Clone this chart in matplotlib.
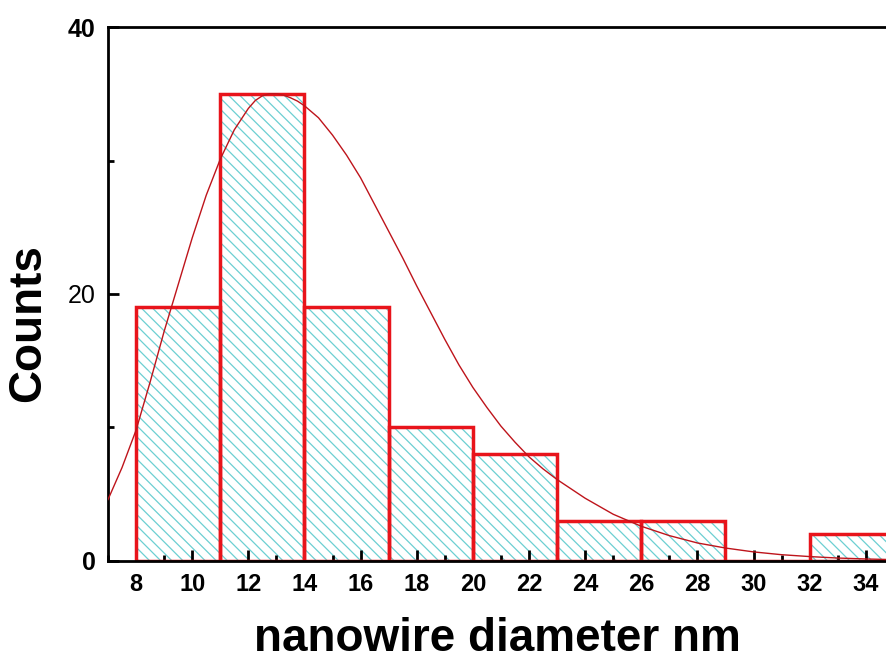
import matplotlib.pyplot as plt
from matplotlib.ticker import MultipleLocator

# histogram data (bin left edges, width 3 nm)
bin_left = [8, 11, 14, 17, 20, 23, 26, 29, 32]
counts = [19, 35, 19, 10, 8, 3, 3, 0, 2]
bin_width = 3

# fitted curve
fit_x = [7.0, 7.5, 8.0, 8.5, 9.0, 9.5, 10.0, 10.5, 11.0, 11.5, 12.0, 12.25, 12.5,
         12.75, 13.0, 13.25, 13.5, 13.75, 14.0, 14.5, 15.0, 15.5, 16.0, 16.5, 17.0,
         17.5, 18.0, 18.5, 19.0, 19.5, 20.0, 20.5, 21.0, 21.5, 22.0, 22.5, 23.0,
         24.0, 25.0, 26.0, 27.0, 28.0, 29.0, 30.0, 31.0, 32.0, 33.0, 34.0, 35.0]
fit_y = [4.6, 7.0, 9.8, 13.4, 17.2, 20.7, 24.2, 27.4, 30.1, 32.3, 33.9, 34.5, 34.85,
         35.0, 35.0, 34.9, 34.7, 34.45, 34.1, 33.2, 31.9, 30.4, 28.7, 26.7, 24.7,
         22.7, 20.6, 18.6, 16.6, 14.7, 13.0, 11.5, 10.1, 8.9, 7.8, 6.9, 6.1,
         4.7, 3.5, 2.6, 1.9, 1.35, 0.97, 0.68, 0.47, 0.33, 0.22, 0.15, 0.1]

plt.rcParams['font.family'] = ['Liberation Sans', 'DejaVu Sans']
plt.rcParams['hatch.linewidth'] = 0.9

fig = plt.figure(figsize=(8.86, 6.62), dpi=100)
ax = fig.add_axes([0.1219, 0.1526, 0.887, 0.8066])

# hatched fill, then red outlines on top
ax.bar(bin_left, counts, width=bin_width, align='edge', facecolor='white',
       edgecolor='#6CCFD2', hatch='\\\\\\', linewidth=0, zorder=1)
ax.bar(bin_left, counts, width=bin_width, align='edge', fill=False,
       edgecolor='#E8141B', linewidth=2.5, zorder=2)
ax.plot(fit_x, fit_y, color='#BE141B', lw=1.0, zorder=3)

ax.set_xlim(7, 35)
ax.set_ylim(0, 40)
ax.xaxis.set_major_locator(MultipleLocator(2))
ax.xaxis.set_minor_locator(MultipleLocator(1))
ax.yaxis.set_major_locator(MultipleLocator(20))
ax.yaxis.set_minor_locator(MultipleLocator(10))
ax.tick_params(which='both', direction='in', width=2, top=False, right=False)
ax.tick_params(which='major', length=8)
ax.tick_params(which='minor', length=4)
ax.tick_params(axis='x', labelsize=17, pad=9)
ax.tick_params(axis='y', labelsize=18, pad=9)
for lab in ax.get_xticklabels():
    lab.set_fontweight('bold')
for lab in ax.get_yticklabels():
    if lab.get_text() != '20':
        lab.set_fontweight('bold')
for s in ax.spines.values():
    s.set_linewidth(2)

ax.set_xlabel('nanowire diameter nm', fontsize=33, fontweight='bold')
ax.set_ylabel('Counts', fontsize=33, fontweight='bold')
ax.xaxis.set_label_coords(0.496, -0.105)
ax.yaxis.set_label_coords(-0.074, 0.445)

fig.savefig('out.png', dpi=100)
